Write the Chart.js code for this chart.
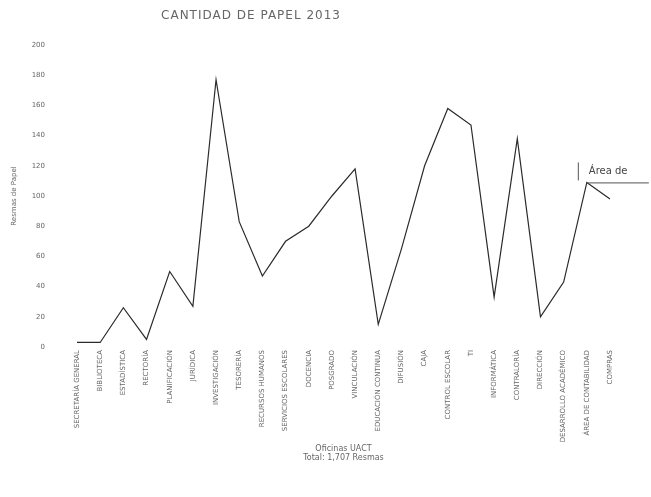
<!DOCTYPE html>
<html>
<head>
<meta charset="utf-8">
<script src="https://cdn.jsdelivr.net/npm/chart.js@4"></script>
<style>
  body { margin: 0; background: #fff; }
  #wrap { width: 651px; height: 497px; }
</style>
</head>
<body>
<div id="wrap"><canvas id="papelChart"></canvas></div>
<script>
const oficinas = [
  "SECRETARÍA GENERAL", "BIBLIOTECA", "ESTADÍSTICA", "RECTORÍA",
  "PLANIFICACIÓN", "JURÍDICA", "INVESTIGACIÓN", "TESORERÍA",
  "RECURSOS HUMANOS", "SERVICIOS ESCOLARES", "DOCENCIA", "POSGRADO",
  "VINCULACIÓN", "EDUCACIÓN CONTINUA", "DIFUSIÓN", "CAJA",
  "CONTROL ESCOLAR", "TI", "INFORMÁTICA", "CONTRALORÍA",
  "DIRECCIÓN", "DESARROLLO ACADÉMICO", "ÁREA DE CONTABILIDAD", "COMPRAS"
];
const resmas = [3, 3, 26, 5, 50, 27, 177, 83, 47, 70, 80, 100,
  118, 15, 65, 120, 158, 147, 33, 138, 20, 43, 109, 98];
const yTicks = [0, 20, 40, 60, 80, 100, 120, 140, 160, 180, 200];
const titulo = "CANTIDAD DE PAPEL 2013";
const tituloX = ["Oficinas UACT", "Total: 1,707 Resmas"];
const tituloY = "Resmas de Papel";
const indiceNota = 22;
const textoNota = "Área de";

const gris = "#666";

// titulo principal y nota sobre el punto
const textos = {
  id: "textos",
  afterDraw(chart) {
    const ctx = chart.ctx;
    ctx.save();
    ctx.fillStyle = gris;
    ctx.font = "12px 'DejaVu Sans'";
    ctx.textAlign = "center";
    ctx.textBaseline = "middle";
    if ("letterSpacing" in ctx) ctx.letterSpacing = "1px";
    ctx.fillText(titulo, 251, 16);
    if ("letterSpacing" in ctx) ctx.letterSpacing = "0px";

    const pt = chart.getDatasetMeta(0).data[indiceNota];
    ctx.font = "10px 'DejaVu Sans'";
    ctx.textAlign = "left";
    ctx.fillStyle = "#444";
    ctx.fillText(textoNota, pt.x + 2, pt.y - 11);
    ctx.strokeStyle = "#555";
    ctx.lineWidth = 1;
    ctx.beginPath();
    ctx.moveTo(pt.x, pt.y + 0.5);
    ctx.lineTo(pt.x + 62, pt.y + 0.5);
    ctx.moveTo(pt.x - 8.5, pt.y - 20);
    ctx.lineTo(pt.x - 8.5, pt.y - 2);
    ctx.stroke();
    ctx.restore();
  }
};

new Chart(document.getElementById("papelChart"), {
  type: "line",
  data: {
    labels: oficinas,
    datasets: [{
      label: "Resmas",
      data: resmas,
      borderColor: "#2b2b2b",
      borderWidth: 1.2,
      pointRadius: 0,
      tension: 0,
      fill: false
    }]
  },
  options: {
    responsive: true,
    maintainAspectRatio: false,
    animation: false,
    layout: { padding: { top: 45, right: 41, left: 0, bottom: 0 } },
    plugins: {
      legend: { display: false },
      tooltip: { enabled: false },
      title: { display: false }
    },
    scales: {
      x: {
        offset: false,
        grid: { display: false, drawTicks: false },
        border: { display: false },
        ticks: {
          color: gris,
          font: { size: 7, family: "DejaVu Sans" },
          maxRotation: 90,
          minRotation: 90,
          autoSkip: false,
          padding: 3
        },
        title: {
          display: true,
          text: tituloX,
          color: gris,
          font: { size: 8, family: "DejaVu Sans" },
          padding: { top: 0, bottom: 34 }
        },
        afterFit: (scale) => { scale.height = 150; }
      },
      y: {
        min: 0,
        max: 200,
        afterBuildTicks: (scale) => { scale.ticks = yTicks.map((v) => ({ value: v })); },
        grid: { display: false, drawTicks: false },
        border: { display: false },
        ticks: {
          color: gris,
          font: { size: 7, family: "DejaVu Sans" },
          padding: 32
        },
        title: {
          display: true,
          text: tituloY,
          color: gris,
          font: { size: 7, family: "DejaVu Sans" },
          padding: { top: 10, bottom: 0 }
        },
        afterFit: (scale) => { scale.width = 77; }
      }
    }
  },
  plugins: [textos]
});
</script>
</body>
</html>
